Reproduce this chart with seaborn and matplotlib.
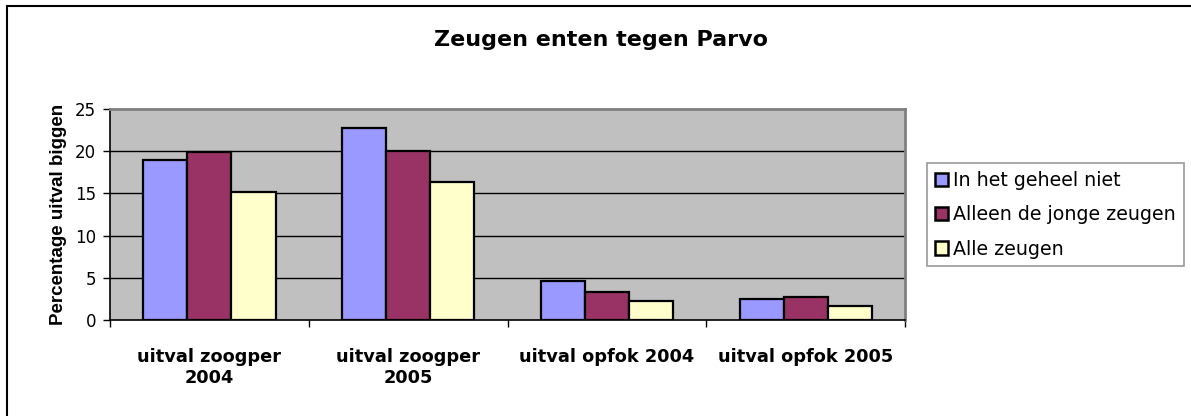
import pandas as pd
import numpy as np
import matplotlib.pyplot as plt
import seaborn as sns
from matplotlib.patches import Rectangle

categories = ["uitval zoogper\n2004", "uitval zoogper\n2005", "uitval opfok 2004", "uitval opfok 2005"]
groups = ["In het geheel niet", "Alleen de jonge zeugen", "Alle zeugen"]
niet = [19.0, 22.7, 4.6, 2.5]
jonge = [19.9, 20.0, 3.3, 2.7]
alle = [15.2, 16.4, 2.2, 1.6]
colors = ["#9999FF", "#993366", "#FFFFCC"]

df = pd.DataFrame({
    "categorie": categories * 3,
    "groep": [g for g in groups for _ in categories],
    "waarde": niet + jonge + alle,
})

sns.set_theme(style="white")
plt.rcParams["font.family"] = ["DejaVu Sans"]
plt.rcParams["text.color"] = "black"
plt.rcParams["axes.labelcolor"] = "black"
plt.rcParams["xtick.color"] = "black"
plt.rcParams["ytick.color"] = "black"

fig = plt.figure(figsize=(11.91, 4.16), dpi=100)
ax = fig.add_axes([0.0924, 0.2308, 0.6676, 0.5072])
ax.set_facecolor("#C0C0C0")

sns.barplot(data=df, x="categorie", y="waarde", hue="groep", order=categories,
            hue_order=groups, palette=colors, width=0.665, gap=0,
            edgecolor="black", linewidth=1.6, saturation=1, ax=ax, legend=False)

ax.set_ylim(0, 25)
ax.set_xlim(-0.5, 3.5)
ax.set_yticks([0, 5, 10, 15, 20, 25])
ax.set_yticklabels(["0", "5", "10", "15", "20", "25"], fontsize=12)
for y in [5, 10, 15, 20]:
    ax.axhline(y, color="black", linewidth=1.0, zorder=0.5)
ax.set_axisbelow(True)

ax.set_xticks([-0.5, 0.5, 1.5, 2.5, 3.5])
ax.set_xticklabels([])
ax.set_xticks([0, 1, 2, 3], minor=True)
ax.set_xticklabels(categories, minor=True, fontsize=12.8, fontweight="bold")
ax.tick_params(axis="x", which="minor", length=0, pad=20)
ax.tick_params(axis="x", which="major", length=5, width=1, color="black", direction="out", bottom=True)
ax.tick_params(axis="y", length=5, width=1, color="black", direction="out", left=True, pad=5)

ax.set_xlabel("")
ax.set_ylabel("Percentage uitval biggen", fontsize=13.5, fontweight="bold",
              fontfamily="Liberation Sans", labelpad=6)

for side in ["left", "bottom"]:
    ax.spines[side].set_color("black")
    ax.spines[side].set_linewidth(1.2)
for side in ["top", "right"]:
    ax.spines[side].set_visible(True)
    ax.spines[side].set_color("#808080")
    ax.spines[side].set_linewidth(2)

fig.text(0.505, 0.904, "Zeugen enten tegen Parvo", ha="center", va="center",
         fontsize=16, fontweight="bold")

handles = [Rectangle((0, 0), 1, 1, facecolor=c, edgecolor="black", linewidth=1.8) for c in colors]
leg = fig.legend(handles, groups, loc="upper left", bbox_to_anchor=(0.778, 0.608),
                 fontsize=13.7, frameon=True, fancybox=False, handlelength=0.72,
                 handleheight=0.72, handletextpad=0.25, labelspacing=0.8,
                 borderpad=0.42, borderaxespad=0)
leg.get_frame().set_edgecolor("#808080")
leg.get_frame().set_linewidth(1.2)

fig.patches.append(Rectangle((7 / 1191, -0.01), 1.02, 1 - 6 / 416 + 0.01,
                             transform=fig.transFigure, fill=False,
                             edgecolor="black", linewidth=1.5))

fig.savefig("out.png", dpi=100)
